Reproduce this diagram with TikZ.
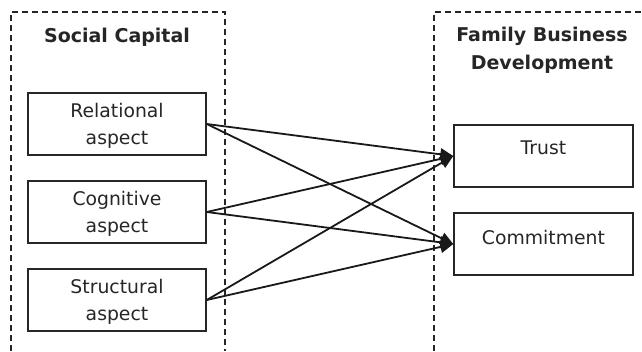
\documentclass[tikz,border=0pt]{standalone}
\usepackage{fontspec}
\setmainfont{DejaVu Sans}
\usetikzlibrary{arrows.meta}
\begin{document}
\begin{tikzpicture}[x=1pt,y=-1pt,
  frame/.style={draw=black!85, line width=1.2pt, dash pattern=on 6pt off 4pt},
  itembox/.style={draw=black!85, line width=1.5pt, minimum width=178pt, minimum height=62pt, inner sep=0pt},
  boxtext/.style={align=center, font=\fontsize{18.8}{27}\selectfont, text=black!85, inner sep=0pt},
  titletext/.style={align=center, font=\fontsize{19}{28}\selectfont\bfseries, text=black!85},
  link/.style={line width=1.8pt, draw=black!90, -{Triangle[length=13pt,width=12pt]}}]
\useasboundingbox (0,0) rectangle (642,351);
% frames
\coordinate (lf1) at (11,351); \coordinate (lf2) at (11,12);
\coordinate (lf3) at (225,12); \coordinate (lf4) at (225,351);
\coordinate (rf1) at (434,351); \coordinate (rf2) at (434,12);
\coordinate (rf3) at (642,12);
\draw[frame] (lf1) -- (lf2) -- (lf3) -- (lf4);
\draw[frame] (rf1) -- (rf2) -- (rf3);
% titles
\node[titletext] (sc) at (117,37) {Social Capital};
\node[titletext] (fbd) at (542,50) {Family Business\\Development};
% left boxes
\node[itembox] (rel) at (117,124) {};
\node[boxtext] (relt) at (117,126) {Relational\\aspect};
\node[itembox] (cog) at (117,212) {};
\node[boxtext] (cogt) at (117,214) {Cognitive\\aspect};
\node[itembox] (str) at (117,300) {};
\node[boxtext] (strt) at (117,302) {Structural\\aspect};
% right boxes
\node[itembox, minimum width=179pt] (tru) at (543.5,156) {};
\node[boxtext] (trut) at (543.5,148) {Trust};
\node[itembox, minimum width=179pt] (com) at (543.5,244) {};
\node[boxtext] (comt) at (543.5,237) {Commitment};
% arrows
\draw[link] (rel.east) -- (tru.west);
\draw[link] (rel.east) -- (com.west);
\draw[link] (cog.east) -- (tru.west);
\draw[link] (cog.east) -- (com.west);
\draw[link] (str.east) -- (tru.west);
\draw[link] (str.east) -- (com.west);
\end{tikzpicture}
\end{document}
